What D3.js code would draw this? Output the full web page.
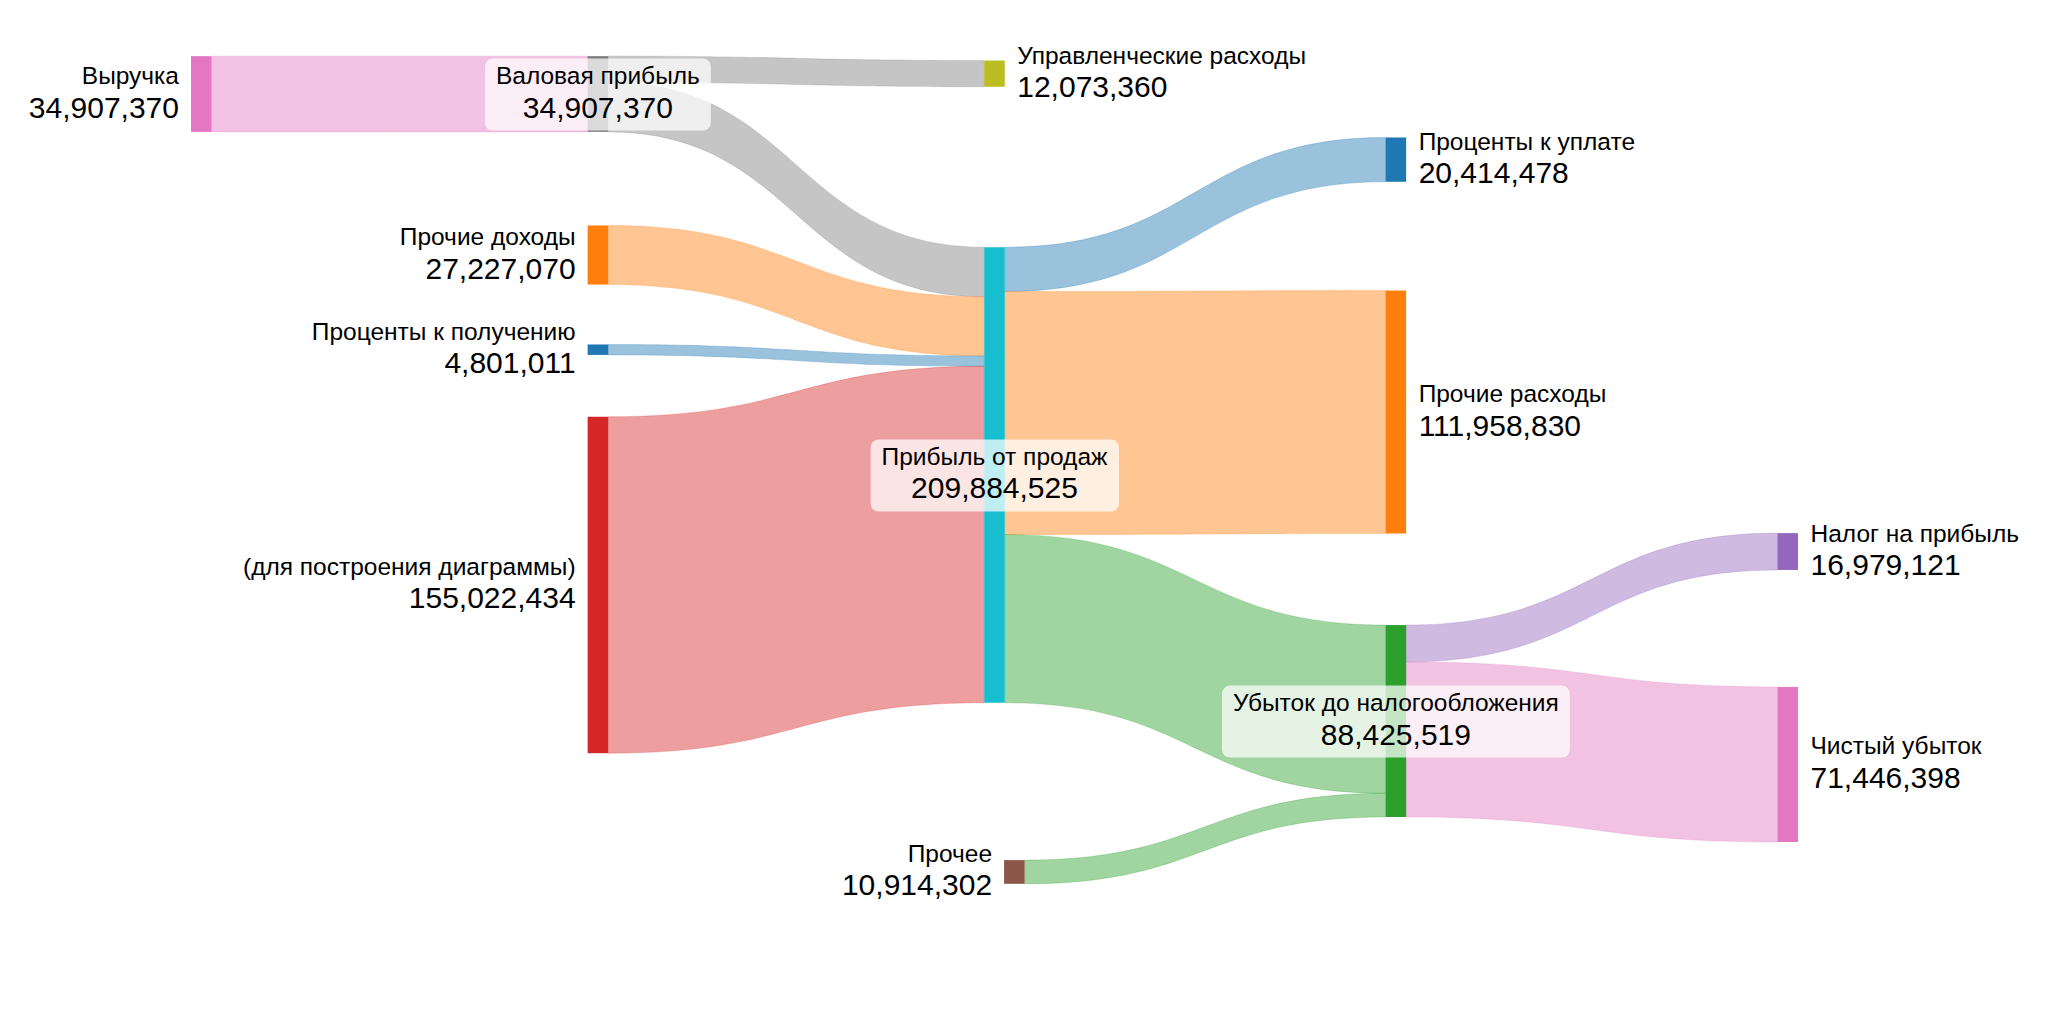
<!DOCTYPE html>
<html><head><meta charset="utf-8">
<script src="https://cdn.jsdelivr.net/npm/d3@7"></script>
<style>html,body{margin:0;padding:0;background:#fff;} svg{display:block;}</style>
</head><body>
<svg id="chart" width="2048" height="1024"></svg>
<script>
// ---- data ----
const nodeNames = [
  "Выручка", "Валовая прибыль", "Управленческие расходы", "Прочие доходы",
  "Проценты к получению", "(для построения диаграммы)", "Прибыль от продаж",
  "Прочее", "Проценты к уплате", "Прочие расходы", "Убыток до налогообложения",
  "Налог на прибыль", "Чистый убыток"
];
const linkSources = ["Выручка", "Валовая прибыль", "Валовая прибыль", "Прочие доходы",
  "Проценты к получению", "(для построения диаграммы)", "Прибыль от продаж",
  "Прибыль от продаж", "Прибыль от продаж", "Прочее", "Убыток до налогообложения",
  "Убыток до налогообложения"];
const linkTargets = ["Валовая прибыль", "Управленческие расходы", "Прибыль от продаж",
  "Прибыль от продаж", "Прибыль от продаж", "Прибыль от продаж", "Проценты к уплате",
  "Прочие расходы", "Убыток до налогообложения", "Убыток до налогообложения",
  "Налог на прибыль", "Чистый убыток"];
const linkValues = [34907370, 12073360, 22834010, 27227070, 4801011, 155022434,
  20414478, 111958830, 77511217, 10914302, 16979121, 71446398];

// ---- layout (node arrangement, like plotly node.x / node.y) ----
const nodeColumn = [0, 1, 2, 1, 1, 1, 2, 2.05, 3.012, 3.012, 3.012, 4, 4];
const nodeCenterY = [0.0628, 0.0628, 0.0391, 0.2500, 0.3601, 0.6337, 0.5058,
  0.9674, 0.1391, 0.4326, 0.7919, 0.5948, 0.8424];
const nodeLabelSide = ["left", "center", "right", "left", "left", "left", "center",
  "left", "right", "right", "center", "right", "right"];

// ---- styles ----
const nodeColors = ["#e377c2", "#7f7f7f", "#bcbd22", "#ff7f0e", "#1f77b4", "#d62728",
  "#17becf", "#8c564b", "#1f77b4", "#ff7f0e", "#2ca02c", "#9467bd", "#e377c2"];
const colorLinkByTarget = new Set(["Прибыль от продаж", "Убыток до налогообложения", "Прочее"]);
const FONT = "'Liberation Sans', Arial, Helvetica, sans-serif";
const nodeWidth = 20.5;

const svg = d3.select("#chart");
svg.append("rect").attr("width", 2048).attr("height", 1024).attr("fill", "#fff");

const xScale = d3.scaleLinear().domain([0, 4]).range([191, 1777.5]);
const yScale = d3.scaleLinear().domain([0, 1]).range([40, 900]);
const maxNodeValue = 209884525;
const hScale = d3.scaleLinear().domain([0, maxNodeValue]).range([0, 455.5]);

// build nodes
const nodes = nodeNames.map((name, i) => ({
  name, i, col: nodeColumn[i], cy: yScale(nodeCenterY[i]),
  color: nodeColors[i], side: nodeLabelSide[i], inLinks: [], outLinks: []
}));
const byName = new Map(nodes.map(n => [n.name, n]));
const links = linkValues.map((v, i) => ({
  source: byName.get(linkSources[i]), target: byName.get(linkTargets[i]), value: v
}));
links.forEach(l => { l.source.outLinks.push(l); l.target.inLinks.push(l); });
nodes.forEach(n => {
  n.value = Math.max(d3.sum(n.inLinks, l => l.value), d3.sum(n.outLinks, l => l.value));
  n.h = hScale(n.value);
  n.x0 = xScale(n.col); n.x1 = n.x0 + nodeWidth;
  n.y0 = n.cy - n.h / 2; n.y1 = n.cy + n.h / 2;
});
nodes.forEach(n => {
  n.outLinks.sort((a, b) => a.target.cy - b.target.cy);
  n.inLinks.sort((a, b) => a.source.cy - b.source.cy);
  let y = n.y0;
  n.outLinks.forEach(l => { l.sy = y; l.w = hScale(l.value); y += l.w; });
  y = n.y0;
  n.inLinks.forEach(l => { l.ty = y; y += hScale(l.value); });
});

function linkPath(l) {
  const x0 = l.source.x1, x1 = l.target.x0, xm = (x0 + x1) / 2;
  const s0 = l.sy, t0 = l.ty, s1 = l.sy + l.w, t1 = l.ty + l.w;
  const p = d3.path();
  p.moveTo(x0, s0);
  p.bezierCurveTo(xm, s0, xm, t0, x1, t0);
  p.lineTo(x1, t1);
  p.bezierCurveTo(xm, t1, xm, s1, x0, s1);
  p.closePath();
  return p.toString();
}

// links
svg.append("g").selectAll("path").data(links).join("path")
  .attr("d", linkPath)
  .attr("fill", l => colorLinkByTarget.has(l.source.name) ? l.target.color : l.source.color)
  .attr("fill-opacity", 0.45)
  .attr("stroke", l => colorLinkByTarget.has(l.source.name) ? l.target.color : l.source.color)
  .attr("stroke-opacity", 0.25)
  .attr("stroke-width", 1);

// nodes
svg.append("g").selectAll("rect").data(nodes).join("rect")
  .attr("x", n => n.x0).attr("y", n => n.y0)
  .attr("width", nodeWidth).attr("height", n => n.h)
  .attr("fill", n => n.color);

// labels
const fmt = d3.format(",");
const NAME_SIZE = 24.5, VALUE_SIZE = 30;
const labelG = svg.append("g").attr("font-family", FONT).attr("fill", "#000");
nodes.forEach(n => {
  let x, anchor;
  if (n.side === "left") { x = n.x0 - 12; anchor = "end"; }
  else if (n.side === "right") { x = n.x1 + 12.5; anchor = "start"; }
  else { x = (n.x0 + n.x1) / 2; anchor = "middle"; }
  const g = labelG.append("g");
  const t = g.append("text").attr("text-anchor", anchor);
  t.append("tspan").attr("x", x).attr("y", n.cy - 10).attr("font-size", NAME_SIZE).text(n.name);
  t.append("tspan").attr("x", x).attr("y", n.cy + 23.5).attr("font-size", VALUE_SIZE).text(fmt(n.value));
  if (n.side === "center") {
    const bb = t.node().getBBox();
    g.insert("rect", "text")
      .attr("x", bb.x - 11).attr("y", n.cy - 35.5)
      .attr("width", bb.width + 22).attr("height", 72)
      .attr("rx", 8).attr("ry", 8)
      .attr("fill", "#fff").attr("fill-opacity", 0.72);
  }
});
</script>
</body></html>
